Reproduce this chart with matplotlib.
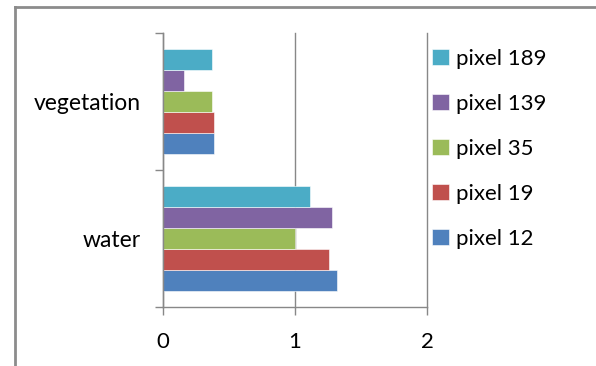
import numpy as np
import matplotlib.pyplot as plt
from matplotlib.lines import Line2D

categories = ["water", "vegetation"]
series = ["pixel 12", "pixel 19", "pixel 35", "pixel 139", "pixel 189"]
pixel_12 = [1.32, 0.39]
pixel_19 = [1.26, 0.39]
pixel_35 = [1.00, 0.37]
pixel_139 = [1.28, 0.16]
pixel_189 = [1.11, 0.37]
values = [pixel_12, pixel_19, pixel_35, pixel_139, pixel_189]
colors = ["#4F81BD", "#C0504D", "#9BBB59", "#8064A2", "#4BACC6"]

plt.rcParams['font.family'] = ['Lato', 'DejaVu Sans']

fig = plt.figure(figsize=(5.96, 3.66), dpi=100)
ax = fig.add_axes([163 / 596, 59 / 366, 264 / 596, 274 / 366])

y = np.arange(len(categories))
h = 0.153
for i, (name, vals) in enumerate(zip(series, values)):
    ax.barh(y + (i - 2) * h, vals, height=h, color=colors[i], label=name,
            edgecolor="white", linewidth=0.4)

ax.set_xlim(0, 2)
ax.set_ylim(-0.5, 1.5)
ax.set_xticks([0, 1, 2])
ax.set_xticklabels(["0", "1", "2"], fontsize=16)
ax.set_yticks(y)
ax.set_yticklabels(categories, fontsize=16.5)
ax.set_yticks([-0.5, 0.5, 1.5], minor=True)
ax.tick_params(axis="y", which="major", length=0, pad=16)
ax.tick_params(axis="y", which="minor", length=6, color="#888888", width=1)
ax.tick_params(axis="x", length=6, color="#888888", width=1, pad=12)
ax.grid(axis="x", color="#888888", linewidth=1)
for line in ax.get_xgridlines():
    line.set_clip_on(False)
ax.set_axisbelow(True)
for s in ["top", "right"]:
    ax.spines[s].set_visible(False)
for s in ["left", "bottom"]:
    ax.spines[s].set_color("#888888")
    ax.spines[s].set_linewidth(1)

handles, labels = ax.get_legend_handles_labels()
leg = fig.legend(handles[::-1], labels[::-1], loc="upper left",
                 bbox_to_anchor=(412 / 596, 1 - 29 / 366), frameon=False,
                 fontsize=16, handlelength=0.75, handleheight=0.75,
                 handletextpad=0.35, labelspacing=1.12)

# outer chart frame (only left and top edges visible)
fig.add_artist(Line2D([15 / 596, 15 / 596], [0, 1 - 7 / 366],
                      transform=fig.transFigure, color="#8c8c8c", linewidth=2))
fig.add_artist(Line2D([15 / 596, 1], [1 - 7 / 366, 1 - 7 / 366],
                      transform=fig.transFigure, color="#8c8c8c", linewidth=2))

fig.savefig("out.png", dpi=100)
